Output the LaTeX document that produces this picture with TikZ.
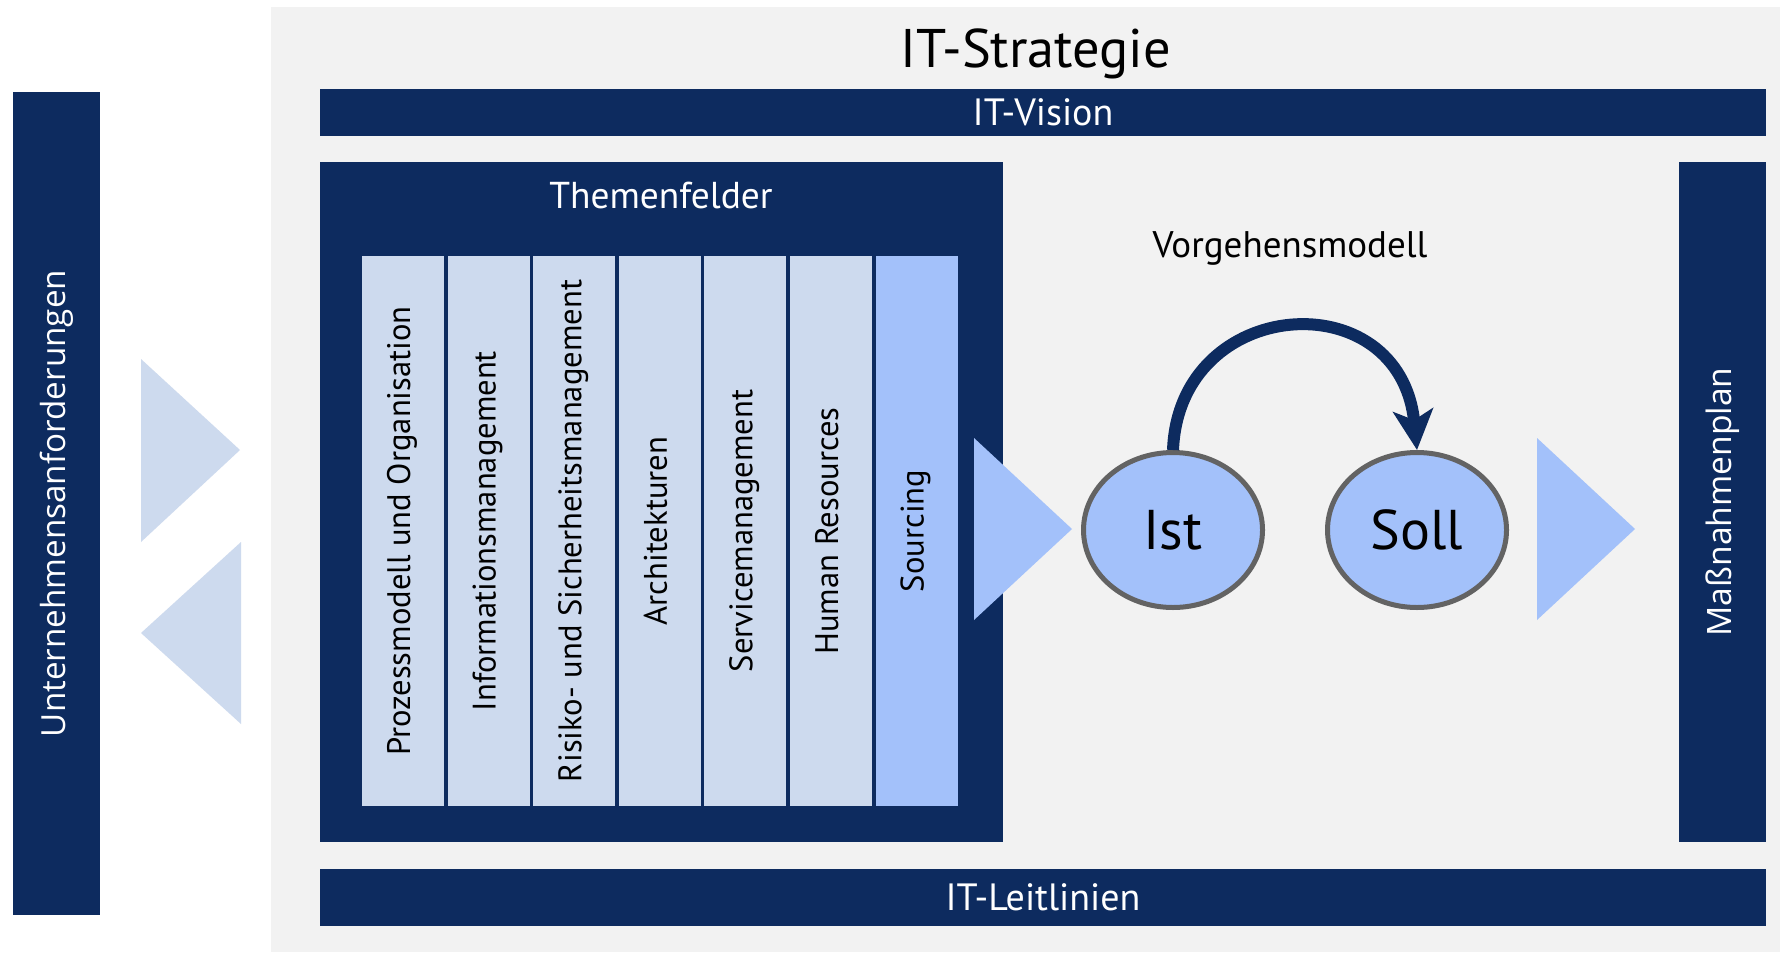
\documentclass[tikz,border=0pt]{standalone}
\usepackage{fontspec}
\setmainfont{PT Sans}
\newfontfamily\barfont{Open Sans}
\usetikzlibrary{shapes,arrows.meta,calc,positioning}
\definecolor{navy}{RGB}{13,43,95}
\definecolor{paleblue}{RGB}{205,218,238}
\definecolor{midblue}{RGB}{163,193,250}
\definecolor{bggray}{RGB}{242,242,242}
\definecolor{rimgray}{RGB}{99,99,99}
\tikzset{
    bar/.style = {fill=navy, text=white, inner sep=0pt, font=\fontsize{19}{20}\selectfont},
    sidebar/.style = {bar, rotate=90, font=\barfont\fontsize{16.6}{17}\selectfont},
    field/.style = {fill=paleblue, rotate=90, inner sep=0pt, minimum width=275pt,
        minimum height=41pt, text height=0.7em, text depth=0pt, font=\fontsize{16.3}{17}\selectfont},
    state/.style = {ellipse, draw=rimgray, line width=2.5pt, fill=midblue, inner sep=0pt,
        minimum width=89.5pt, minimum height=77.5pt, font=\fontsize{28}{30}\selectfont},
    title/.style = {inner sep=0pt, font=\fontsize{18.5}{20}\selectfont}
}

\begin{document}
\begin{tikzpicture}[x=0.5pt,y=-0.5pt]
	\useasboundingbox (0,0) rectangle (1780,952);
	\fill[white] (0,0) rectangle (1780,952);
	\fill[bggray] (271,7) rectangle (1780,952);
	\node[anchor=base, inner sep=0pt, font=\fontsize{27.2}{30}\selectfont] (strat) at (1036,68) {IT-Strategie};

	% bars
	\node[bar, minimum width=723pt, minimum height=23.5pt] (vision) at (1043,112.5) {IT-Vision};
	\node[bar, minimum width=723pt, minimum height=28.5pt] (leit) at (1043,897.5) {IT-Leitlinien};
	\node[sidebar, minimum width=411.5pt, minimum height=43.5pt] (anf) at (56.5,503.5) {Unternehmensanforderungen};
	\node[sidebar, minimum width=340pt, minimum height=43.5pt, font=\barfont\fontsize{16.8}{17}\selectfont] (plan) at (1722.5,502) {Maßnahmenplan};

	% Themenfelder
	\fill[navy] (320,162) rectangle (1003,842);
	\node[bar, fill=none, font=\fontsize{18.7}{20}\selectfont] (themen) at (661,196) {Themenfelder};
	\foreach \i/\txt in {0/Prozessmodell und Organisation, 1/Informationsmanagement,
		2/Risiko- und Sicherheitsmanagement, 3/Architekturen, 4/Servicemanagement,
		5/Human Resources}
		\node[field] (f\i) at (403.05+\i*85.6,531) {\txt};
	\node[field, fill=midblue] (f6) at (403.05+6*85.6,531) {Sourcing};

	% Pfeile
	\fill[paleblue] (141,359) -- (240,450) -- (141,542) -- cycle;
	\fill[paleblue] (241,542) -- (141,633) -- (241,724) -- cycle;
	\fill[midblue] (974,438) -- (1072,529) -- (974,620) -- cycle;
	\fill[midblue] (1537,438) -- (1635,529) -- (1537,620) -- cycle;

	% Vorgehensmodell
	\node[title] (vorg) at (1290,248) {Vorgehensmodell};
	\node[state] (ist) at (1173,530) {Ist};
	\node[state, right=30pt of ist] (soll) {Soll};
	\draw[navy, line width=6pt, -{Stealth[length=20pt,width=20pt,inset=5pt]}]
		(ist.north) .. controls +(6,-155) and +(-17,-170) .. (soll.north);
\end{tikzpicture}
\end{document}
